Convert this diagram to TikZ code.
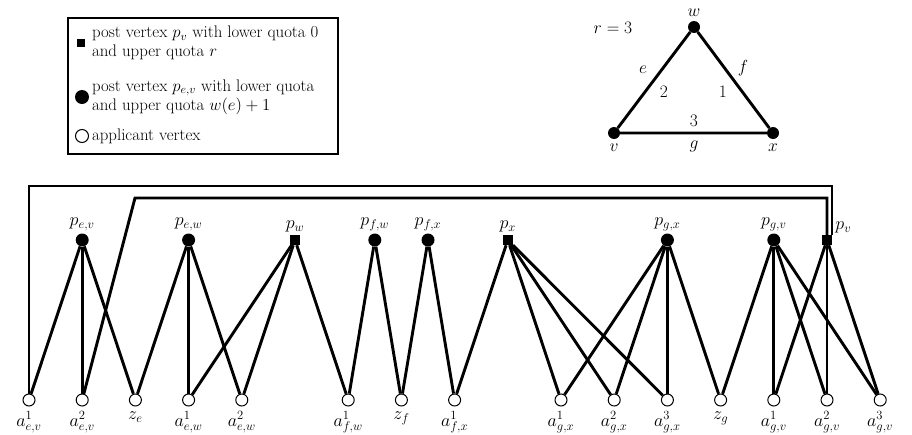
\RequirePackage{fix-cm}
\documentclass[tikz,border=0pt]{standalone}
\begin{document}
\begin{tikzpicture}[x=1pt,y=-1pt,
  post/.style={circle,fill=black,inner sep=0pt,minimum size=13pt},
  postsq/.style={rectangle,fill=black,inner sep=0pt,minimum size=10pt},
  app/.style={circle,draw=black,fill=white,line width=1pt,inner sep=0pt,minimum size=12pt},
  edge/.style={line width=2.9pt,line join=miter},
  legtext/.style={anchor=west,align=left,inner sep=0pt,font=\fontsize{16.8}{19}\selectfont},
  plabel/.style={label={[inner sep=0pt,label distance=2.5pt,font=\fontsize{18}{20}\selectfont]above:#1}},
  alabel/.style={label={[inner sep=0pt,label distance=5pt,font=\fontsize{18}{20}\selectfont]below:#1}},
  tri/.style={font=\fontsize{17.5}{19}\selectfont,inner sep=0pt}]
\useasboundingbox (0,0) rectangle (912,434);
% legend
\node[draw,line width=1.5pt,minimum width=270pt,minimum height=136pt,anchor=north west,inner sep=0pt] (legend) at (67,17) {};
\node[postsq,minimum size=8pt] (lsq) at (81,43) {};
\node[legtext] (lt1) at (92,43) {post vertex $p_v$ with lower quota 0\\and upper quota $r$};
\node[post,minimum size=14pt] (lci) at (82,97) {};
\node[legtext] (lt2) at (92,97) {post vertex $p_{e,v}$ with lower quota\\and upper quota $w(e)+1$};
\node[app,minimum size=13pt] (lap) at (82,136) {};
\node[legtext] (lt3) at (92,136) {applicant vertex};
% triangle graph
\node[post,minimum size=12pt,label={[tri,label distance=4pt]above:$w$}] (w) at (694,27) {};
\node[post,minimum size=12pt,label={[tri,label distance=5pt]below:$v$}] (v) at (614,133) {};
\node[post,minimum size=12pt,label={[tri,label distance=5pt]below:$x$}] (x) at (773,133) {};
\draw[edge] (w) -- (v) -- (x) -- (w);
\node[tri] (rl) at (613,28) {$r=3$};
\node[tri] (el) at (643,70) {$e$};
\node[tri] (fl) at (743,68) {$f$};
\node[tri] (gl) at (694,146) {$g$};
\node[tri] (n2) at (664,92) {$2$};
\node[tri] (n1) at (723,92) {$1$};
\node[tri] (n3) at (694,121) {$3$};
% posts
\node[post,plabel=$p_{e,v}$] (pev) at (82.2,240) {};
\node[post,plabel=$p_{e,w}$] (pew) at (188.6,240) {};
\node[postsq,plabel=$p_w$] (pw) at (295,240) {};
\node[post,plabel=$p_{f,w}$] (pfw) at (374.8,240) {};
\node[post,plabel=$p_{f,x}$] (pfx) at (428,240) {};
\node[postsq,plabel=$p_x$] (px) at (507.8,240) {};
\node[post,plabel=$p_{g,x}$] (pgx) at (667.4,240) {};
\node[post,plabel=$p_{g,v}$] (pgv) at (773.8,240) {};
\node[postsq,label={[inner sep=0pt,label distance=4pt,font=\fontsize{18}{20}\selectfont]40:$p_v$}] (pv) at (827,240) {};
% applicants
\node[app,alabel=$a^1_{e,v}$] (aev1) at (29,400) {};
\node[app,alabel=$a^2_{e,v}$] (aev2) at (82.2,400) {};
\node[app,alabel=$z_e$] (ze) at (135.4,400) {};
\node[app,alabel=$a^1_{e,w}$] (aew1) at (188.6,400) {};
\node[app,alabel=$a^2_{e,w}$] (aew2) at (241.8,400) {};
\node[app,alabel=$a^1_{f,w}$] (afw1) at (348.2,400) {};
\node[app,alabel=$z_f$] (zf) at (401.4,400) {};
\node[app,alabel=$a^1_{f,x}$] (afx1) at (454.6,400) {};
\node[app,alabel=$a^1_{g,x}$] (agx1) at (561,400) {};
\node[app,alabel=$a^2_{g,x}$] (agx2) at (614.2,400) {};
\node[app,alabel=$a^3_{g,x}$] (agx3) at (667.4,400) {};
\node[app,alabel=$z_g$] (zg) at (720.6,400) {};
\node[app,alabel=$a^1_{g,v}$] (agv1) at (773.8,400) {};
\node[app,alabel=$a^2_{g,v}$] (agv2) at (827,400) {};
\node[app,alabel=$a^3_{g,v}$] (agv3) at (880.2,400) {};
% edges
\foreach \p/\a in {pev/aev1,pev/aev2,pev/ze,pew/ze,pew/aew1,pew/aew2,
  pw/aew1,pw/aew2,pw/afw1,pfw/afw1,pfw/zf,pfx/zf,pfx/afx1,
  px/afx1,px/agx1,px/agx2,px/agx3,pgx/agx1,pgx/agx2,pgx/agx3,pgx/zg,
  pgv/zg,pgv/agv1,pgv/agv2,pgv/agv3,pv/agv1,pv/agv2,pv/agv3}
  \draw[edge] (\p) -- (\a);
% long wires
\coordinate (w1) at (29,186);
\coordinate (w2) at (832,186);
\coordinate (w3) at (135,198);
\coordinate (w4) at (827,198);
\draw[edge] (aev1) |- (w2) -- (w2 |- pv.north);
\draw[edge] (aev2) -- (w3) -- (w4) -- (pv);
\end{tikzpicture}
\end{document}
